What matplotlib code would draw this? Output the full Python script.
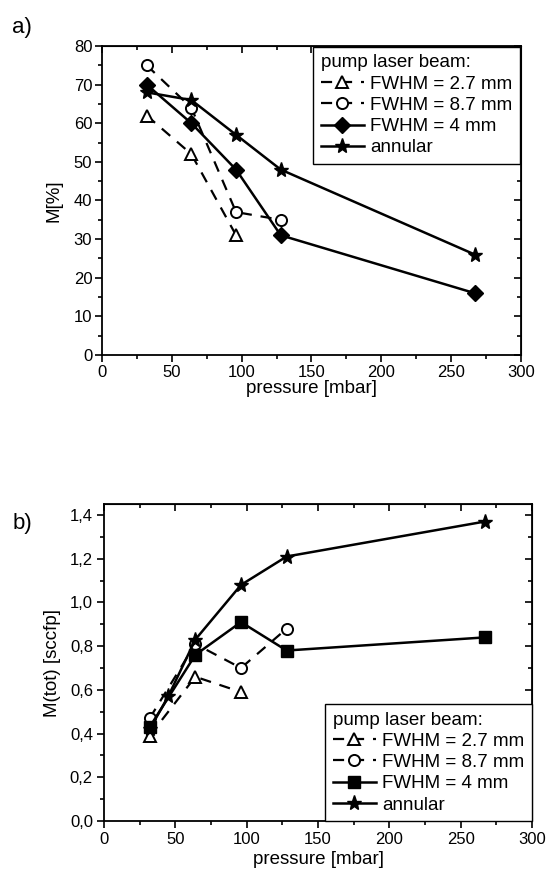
import matplotlib
matplotlib.use("Agg")
import matplotlib.pyplot as plt
from matplotlib.ticker import MultipleLocator, FuncFormatter

plt.rcParams['font.family'] = ['Liberation Sans', 'DejaVu Sans']
plt.rcParams['font.size'] = 12

# data, plot a)
p_27 = [32, 64, 96]
m_27 = [62, 52, 31]
p_87 = [32, 64, 96, 128]
m_87 = [75, 64, 37, 35]
p_4 = [32, 64, 96, 128, 267]
m_4 = [70, 60, 48, 31, 16]
p_ann = [32, 64, 96, 128, 267]
m_ann = [68, 66, 57, 48, 26]

# data, plot b)
pb_27 = [32, 64, 96]
tot_27 = [0.39, 0.66, 0.59]
pb_87 = [32, 64, 96, 128]
tot_87 = [0.47, 0.81, 0.70, 0.88]
pb_4 = [32, 64, 96, 128, 267]
tot_4 = [0.43, 0.76, 0.91, 0.78, 0.84]
pb_ann = [32, 45, 64, 96, 128, 267]
tot_ann = [0.42, 0.57, 0.83, 1.08, 1.21, 1.37]

labels = ['FWHM = 2.7 mm', 'FWHM = 8.7 mm', 'FWHM = 4 mm', 'annular']

fig = plt.figure(figsize=(5.53, 8.74), dpi=100)
ax1 = fig.add_axes([0.1844, 0.5938, 0.7577, 0.3536])
ax2 = fig.add_axes([0.1881, 0.0606, 0.7740, 0.3627])

dash = (0, (5, 4))


def style_axes(ax, pad):
    ax.tick_params(which='both', direction='out', top=False, right=False, width=1.2, labelsize=12, pad=pad)
    ax.tick_params(which='major', length=5)
    ax.tick_params(which='minor', length=3)
    sec_x = ax.secondary_xaxis('top')
    sec_y = ax.secondary_yaxis('right')
    for s in (sec_x, sec_y):
        s.tick_params(which='both', direction='in', labelleft=False, labelright=False,
                      labeltop=False, labelbottom=False, width=1.2)
        s.tick_params(which='major', length=5)
        s.tick_params(which='minor', length=3)
    sec_x.xaxis.set_major_locator(ax.xaxis.get_major_locator())
    sec_x.xaxis.set_minor_locator(ax.xaxis.get_minor_locator())
    sec_y.yaxis.set_major_locator(ax.yaxis.get_major_locator())
    sec_y.yaxis.set_minor_locator(ax.yaxis.get_minor_locator())
    for s in ax.spines.values():
        s.set_linewidth(1.3)


def legend(ax, loc, pad):
    leg = ax.legend(title='pump laser beam:', alignment='left', loc=loc,
                    frameon=True, fancybox=False, edgecolor='black', framealpha=1,
                    handlelength=2.3, handletextpad=0.35, borderpad=0.4, labelspacing=0.22,
                    borderaxespad=pad, fontsize=13.5, title_fontsize=13.5)
    leg.get_frame().set_linewidth(1.0)
    return leg


# plot a)
ax1.plot(p_27, m_27, color='black', ls=dash, lw=1.6, marker='^', mfc='white', mec='black', ms=8, mew=1.4, label=labels[0])
ax1.plot(p_87, m_87, color='black', ls=dash, lw=1.6, marker='o', mfc='white', mec='black', ms=8, mew=1.4, label=labels[1])
ax1.plot(p_4, m_4, color='black', ls='-', lw=1.8, marker='D', mfc='black', mec='black', ms=8, label=labels[2])
ax1.plot(p_ann, m_ann, color='black', ls='-', lw=1.8, marker='*', mfc='black', mec='black', ms=11, label=labels[3])
ax1.set_xlim(0, 300)
ax1.set_ylim(0, 80)
ax1.xaxis.set_major_locator(MultipleLocator(50))
ax1.xaxis.set_minor_locator(MultipleLocator(25))
ax1.yaxis.set_major_locator(MultipleLocator(10))
ax1.yaxis.set_minor_locator(MultipleLocator(5))
ax1.set_xlabel('pressure [mbar]', fontsize=13.5, labelpad=0)
ax1.set_ylabel('M[%]', fontsize=13.5, labelpad=8)
style_axes(ax1, 2)
legend(ax1, 'upper right', 0.05)

# plot b)
ax2.plot(pb_27, tot_27, color='black', ls=dash, lw=1.6, marker='^', mfc='white', mec='black', ms=8, mew=1.4, label=labels[0])
ax2.plot(pb_87, tot_87, color='black', ls=dash, lw=1.6, marker='o', mfc='white', mec='black', ms=8, mew=1.4, label=labels[1])
ax2.plot(pb_4, tot_4, color='black', ls='-', lw=1.8, marker='s', mfc='black', mec='black', ms=8, label=labels[2])
ax2.plot(pb_ann, tot_ann, color='black', ls='-', lw=1.8, marker='*', mfc='black', mec='black', ms=11, label=labels[3])
ax2.set_xlim(0, 300)
ax2.set_ylim(0, 1.45)
ax2.xaxis.set_major_locator(MultipleLocator(50))
ax2.xaxis.set_minor_locator(MultipleLocator(25))
ax2.yaxis.set_major_locator(MultipleLocator(0.2))
ax2.yaxis.set_minor_locator(MultipleLocator(0.1))
ax2.yaxis.set_major_formatter(FuncFormatter(lambda v, pos: f'{v:.1f}'.replace('.', ',')))
ax2.set_xlabel('pressure [mbar]', fontsize=13.5, labelpad=3)
ax2.set_ylabel('M(tot) [sccfp]', fontsize=13.5, labelpad=6)
style_axes(ax2, 3)
legend(ax2, 'lower right', 0.0)

fig.text(0.022, 0.962, 'a)', fontsize=16)
fig.text(0.022, 0.395, 'b)', fontsize=16)

fig.savefig('out.png', dpi=100)
